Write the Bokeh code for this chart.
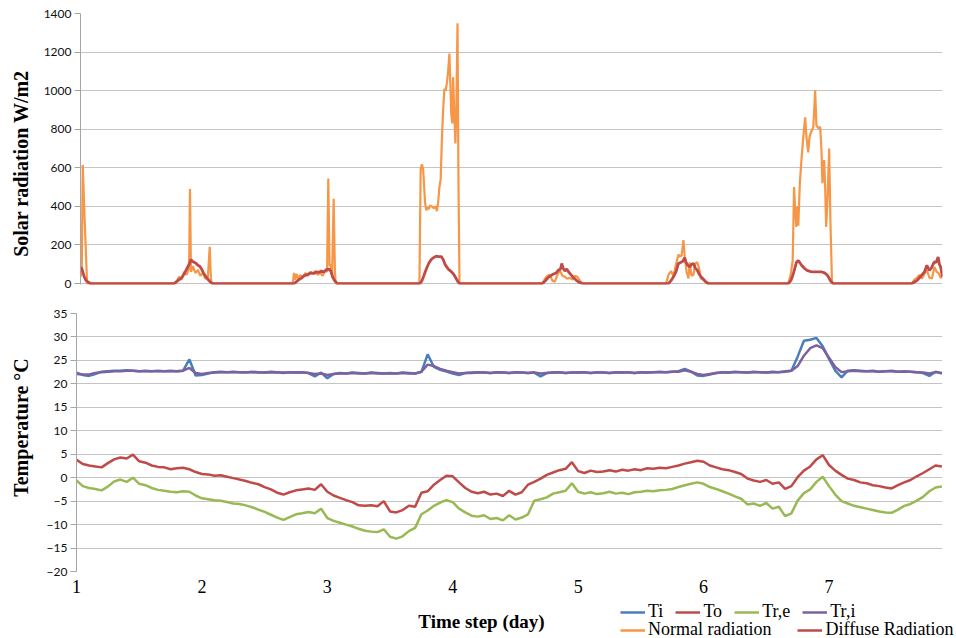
import numpy as np
from bokeh.plotting import figure
from bokeh.layouts import column, row
from bokeh.models import Range1d, FixedTicker, Legend, LegendItem, Label
from bokeh.embed import file_html
from bokeh.resources import INLINE

# ---------------- data ----------------
# Solar radiation (W/m2): time (day) / value pairs
NORMAL_DAY = [
    1.000, 1.010, 1.018, 1.035, 1.053,
    1.750, 1.770, 1.790, 1.810, 1.830, 1.850, 1.870, 1.877, 1.885, 1.900, 1.920, 1.940, 1.960, 1.980, 2.000, 2.020, 2.035, 2.045, 2.055,
    2.700, 2.710, 2.720, 2.730, 2.745, 2.760, 2.780, 2.800, 2.820, 2.840, 2.860, 2.880, 2.900, 2.920, 2.940, 2.960, 2.975, 2.985, 2.995, 3.005, 3.015, 3.028, 3.038, 3.045,
    3.715, 3.725, 3.735, 3.745, 3.760, 3.770, 3.780, 3.790, 3.800, 3.815, 3.830, 3.845, 3.855, 3.865, 3.875, 3.885, 3.895, 3.905, 3.915, 3.925, 3.935, 3.945, 3.955, 3.962, 3.970, 3.978, 3.985, 3.993, 4.003, 4.010, 4.020, 4.028, 4.036,
    4.700, 4.720, 4.740, 4.760, 4.780, 4.800, 4.820, 4.840, 4.860, 4.880, 4.900, 4.920, 4.940, 4.960, 4.980, 5.000, 5.020,
    5.690, 5.710, 5.730, 5.750, 5.770, 5.790, 5.800, 5.815, 5.830, 5.840, 5.855, 5.870, 5.880, 5.895, 5.910, 5.925, 5.940, 5.955, 5.970, 5.990, 6.020,
    6.670, 6.690, 6.705, 6.716, 6.725, 6.734, 6.742, 6.750, 6.762, 6.775, 6.790, 6.805, 6.815, 6.829, 6.840, 6.855, 6.870, 6.885, 6.895, 6.910, 6.925, 6.935, 6.943, 6.957, 6.965, 6.973, 6.985, 6.997, 7.008, 7.020,
    7.660, 7.680, 7.700, 7.720, 7.740, 7.760, 7.780, 7.800, 7.820, 7.840, 7.860, 7.875, 7.890, 7.905,
]
NORMAL_RAD = [
    35, 60, 615, 300, 0,
    0, 12, 35, 20, 60, 45, 80, 490, 60, 90, 55, 70, 40, 55, 25, 30, 190, 20, 0,
    0, 55, 20, 50, 25, 45, 30, 55, 40, 60, 50, 65, 45, 55, 40, 70, 60, 545, 90, 100, 30, 440, 60, 0,
    0, 595, 618, 590, 420, 380, 395, 385, 405, 400, 390, 400, 375, 420, 500, 540, 750, 900, 1010, 1000, 1040, 1100, 1192, 1050, 880, 830, 1070, 900, 726, 880, 1350, 500, 0,
    0, 25, 40, 45, 15, 10, 45, 70, 40, 35, 25, 30, 20, 40, 35, 15, 0,
    0, 45, 65, 40, 100, 150, 140, 145, 225, 140, 60, 26, 110, 40, 45, 105, 110, 80, 26, 20, 0,
    0, 50, 120, 500, 380, 294, 400, 300, 520, 640, 760, 862, 760, 680, 760, 790, 810, 1000, 820, 805, 812, 700, 520, 640, 500, 294, 450, 700, 300, 0,
    0, 20, 30, 45, 25, 50, 69, 30, 26, 86, 60, 52, 30, 35,
]
DIFFUSE_DAY = [
    1.000, 1.008, 1.016, 1.030, 1.045, 1.060, 1.080,
    1.750, 1.770, 1.790, 1.810, 1.830, 1.850, 1.870, 1.885, 1.895, 1.910, 1.925, 1.940, 1.955, 1.970, 1.985, 2.000, 2.020, 2.040, 2.055,
    2.710, 2.730, 2.750, 2.770, 2.790, 2.810, 2.830, 2.850, 2.870, 2.890, 2.910, 2.930, 2.950, 2.970, 2.990, 3.005, 3.020, 3.035, 3.050, 3.060,
    3.720, 3.735, 3.750, 3.770, 3.790, 3.810, 3.830, 3.850, 3.870, 3.890, 3.905, 3.920, 3.935, 3.950, 3.965, 3.980, 3.995, 4.010, 4.025, 4.035,
    4.700, 4.720, 4.745, 4.765, 4.785, 4.810, 4.830, 4.845, 4.855, 4.865, 4.880, 4.895, 4.910, 4.930, 4.950, 4.970, 4.995, 5.020,
    5.710, 5.730, 5.750, 5.770, 5.790, 5.810, 5.825, 5.840, 5.850, 5.865, 5.880, 5.895, 5.910, 5.925, 5.940, 5.955, 5.970, 5.990, 6.010, 6.030,
    6.670, 6.690, 6.705, 6.720, 6.735, 6.750, 6.765, 6.780, 6.800, 6.820, 6.850, 6.880, 6.910, 6.940, 6.960, 6.980, 6.995, 7.010, 7.030,
    7.660, 7.680, 7.700, 7.720, 7.740, 7.760, 7.780, 7.790, 7.800, 7.815, 7.830, 7.840, 7.855, 7.870, 7.880, 7.890, 7.905,
]
DIFFUSE_RAD = [
    80, 82, 65, 35, 15, 8, 0,
    0, 10, 20, 30, 50, 75, 100, 125, 115, 110, 105, 95, 90, 75, 55, 40, 22, 8, 0,
    0, 10, 20, 28, 40, 45, 50, 55, 52, 60, 58, 65, 60, 72, 75, 65, 35, 15, 5, 0,
    0, 15, 40, 75, 105, 125, 135, 142, 140, 140, 125, 100, 85, 72, 65, 55, 42, 25, 8, 0,
    0, 12, 30, 40, 48, 55, 70, 75, 104, 80, 65, 75, 60, 45, 30, 18, 6, 0,
    0, 15, 35, 60, 104, 110, 115, 135, 110, 95, 86, 100, 104, 80, 70, 50, 35, 22, 8, 0,
    0, 15, 40, 75, 110, 120, 105, 92, 78, 68, 62, 60, 60, 60, 55, 45, 30, 12, 0,
    0, 8, 15, 30, 45, 60, 95, 80, 69, 80, 100, 112, 110, 138, 100, 86, 35,
]

# Temperatures (deg C), one reading every 0.05 day from day 1.00 to 7.90
TI = [
    22.4, 21.9, 21.7, 22.1, 22.6, 22.7, 22.8, 22.8, 22.9, 22.8, 22.7, 22.8, 22.7, 22.8, 22.7, 22.8, 22.7, 22.8, 25.2, 21.8,
    21.9, 22.2, 22.5, 22.6, 22.5, 22.6, 22.5, 22.4, 22.6, 22.5, 22.4, 22.6, 22.5, 22.3, 22.5, 22.4, 22.5, 22.3, 21.6, 22.4,
    21.2, 22.1, 22.3, 22.2, 22.4, 22.3, 22.2, 22.4, 22.3, 22.2, 22.3, 22.2, 22.4, 22.3, 22.2, 22.5, 26.3, 23.6, 23.0, 22.6,
    22.2, 21.9, 22.3, 22.4, 22.5, 22.4, 22.3, 22.5, 22.4, 22.3, 22.5, 22.4, 22.3, 22.4, 21.6, 22.3, 22.4, 22.5, 22.3, 22.4,
    22.4, 22.5, 22.3, 22.5, 22.4, 22.3, 22.5, 22.4, 22.5, 22.3, 22.5, 22.4, 22.5, 22.6, 22.5, 22.6, 22.7, 23.2, 22.6, 21.8,
    21.7, 22.0, 22.3, 22.5, 22.4, 22.6, 22.5, 22.4, 22.6, 22.5, 22.4, 22.6, 22.5, 22.7, 22.8, 25.8, 29.2, 29.4, 29.8, 28.0,
    25.3, 22.8, 21.4, 22.8, 22.9, 22.8, 22.7, 22.8, 22.6, 22.7, 22.8, 22.6, 22.7, 22.6, 22.5, 22.3, 21.7, 22.6, 22.2,
]
TO = [
    3.8, 2.9, 2.6, 2.4, 2.2, 3.1, 3.9, 4.3, 4.1, 4.9, 3.5, 3.2, 2.6, 2.3, 2.2, 1.8, 2.0, 2.1, 1.8, 1.2,
    0.8, 0.7, 0.4, 0.5, 0.2, -0.1, -0.4, -0.7, -1.1, -1.4, -2.0, -2.5, -3.2, -3.6, -3.1, -2.7, -2.5, -2.3, -2.6, -1.4,
    -3.0, -3.8, -4.3, -4.8, -5.2, -5.9, -6.0, -5.9, -6.1, -5.0, -7.2, -7.4, -6.9, -6.0, -6.2, -3.2, -2.9, -1.5, -0.5, 0.4,
    0.3, -1.0, -2.2, -3.0, -3.3, -3.0, -3.6, -3.4, -3.9, -2.8, -3.6, -3.1, -1.5, -0.9, -0.2, 0.6, 1.1, 1.6, 1.9, 3.3,
    1.4, 1.0, 1.5, 1.2, 1.3, 1.6, 1.3, 1.7, 1.5, 1.8, 1.6, 2.0, 1.9, 2.1, 2.0, 2.3, 2.6, 3.0, 3.3, 3.6,
    3.4, 2.6, 2.2, 1.8, 1.6, 1.2, 0.8, -0.2, -0.6, -0.9, -0.5, -1.3, -1.0, -2.4, -1.8, 0.1, 1.5, 2.4, 3.9, 4.8,
    2.7, 1.5, 0.6, -0.2, -0.5, -1.0, -1.2, -1.6, -1.8, -2.1, -2.3, -1.6, -1.0, -0.5, 0.3, 1.0, 1.8, 2.6, 2.4,
]
TR_E = [
    -0.6, -1.8, -2.2, -2.4, -2.7, -1.9, -0.8, -0.4, -0.9, 0.0, -1.3, -1.6, -2.2, -2.6, -2.8, -3.0, -3.1, -2.9, -3.0, -3.8,
    -4.4, -4.6, -4.8, -4.9, -5.2, -5.5, -5.6, -5.9, -6.3, -6.8, -7.3, -7.9, -8.5, -9.0, -8.4, -7.8, -7.6, -7.3, -7.6, -6.6,
    -8.6, -9.2, -9.6, -10.0, -10.4, -10.9, -11.3, -11.5, -11.6, -11.0, -12.6, -13.0, -12.5, -11.4, -10.7, -7.8, -7.0, -6.0, -5.3, -4.8,
    -5.2, -6.6, -7.4, -8.1, -8.3, -8.0, -8.8, -8.6, -9.1, -8.0, -8.9, -8.5, -7.8, -4.9, -4.6, -4.2, -3.4, -3.1, -2.8, -1.2,
    -3.0, -3.4, -3.1, -3.5, -3.3, -3.0, -3.4, -3.2, -3.5, -3.1, -3.0, -2.8, -2.9, -2.7, -2.6, -2.4, -2.0, -1.6, -1.3, -1.0,
    -1.3, -2.0, -2.4, -2.9, -3.4, -4.0, -4.5, -5.7, -5.5, -6.0, -5.4, -6.6, -6.2, -8.2, -7.6, -4.9, -3.3, -2.5, -0.9, 0.2,
    -1.8, -3.6, -5.0, -5.5, -6.0, -6.3, -6.6, -6.9, -7.2, -7.4, -7.5, -6.8, -6.0, -5.6, -4.9, -4.1, -2.9, -2.1, -1.9,
]
TR_I = [
    22.1, 22.0, 22.0, 22.3, 22.5, 22.6, 22.7, 22.7, 22.8, 22.8, 22.7, 22.7, 22.7, 22.7, 22.7, 22.7, 22.7, 22.8, 23.4, 22.3,
    22.1, 22.3, 22.4, 22.5, 22.5, 22.5, 22.5, 22.5, 22.5, 22.4, 22.4, 22.5, 22.4, 22.4, 22.4, 22.4, 22.4, 22.3, 22.1, 22.2,
    21.9, 22.1, 22.2, 22.2, 22.3, 22.2, 22.2, 22.3, 22.2, 22.2, 22.2, 22.2, 22.3, 22.2, 22.2, 22.6, 24.1, 23.8, 23.2, 22.8,
    22.5, 22.2, 22.3, 22.3, 22.4, 22.4, 22.3, 22.4, 22.4, 22.3, 22.4, 22.4, 22.3, 22.4, 22.2, 22.3, 22.4, 22.4, 22.3, 22.4,
    22.4, 22.4, 22.3, 22.4, 22.4, 22.3, 22.4, 22.4, 22.4, 22.3, 22.4, 22.4, 22.5, 22.5, 22.5, 22.6, 22.6, 22.9, 22.6, 22.1,
    21.9, 22.1, 22.3, 22.4, 22.4, 22.5, 22.5, 22.4, 22.5, 22.5, 22.4, 22.5, 22.5, 22.6, 22.8, 23.8, 26.0, 27.6, 28.2, 27.6,
    25.6, 23.6, 22.5, 22.7, 22.8, 22.7, 22.7, 22.7, 22.6, 22.7, 22.7, 22.6, 22.6, 22.6, 22.5, 22.4, 22.2, 22.5, 22.3,
]
T_DAY = [round(1.0 + 0.05 * i, 2) for i in range(len(TI))]  # sampling times

RAD_TICKS = [0, 200, 400, 600, 800, 1000, 1200, 1400]
TEMP_TICKS = [-20, -15, -10, -5, 0, 5, 10, 15, 20, 25, 30, 35]
DAY_TICKS = [1, 2, 3, 4, 5, 6, 7]

# ---------------- style ----------------
C_TI, C_TO, C_TRE, C_TRI = "#4A7EBB", "#BE4B48", "#98B954", "#7D60A0"
C_NORMAL, C_DIFFUSE = "#F79646", "#BE4B48"
GRID = "#c4c4c4"
AXIS = "#a6a6a6"
SANS = "Lato"
SERIF = "Liberation Serif"
W, H1, H2, H3, LW = 956, 298, 302, 38, 40

xr = Range1d(1.0, 7.905)


def blank(width, height, y0=0):
    f = figure(width=width, height=height, x_range=Range1d(0, width), y_range=Range1d(y0, y0 + height),
               x_axis_location=None, y_axis_location=None, output_backend="svg",
               toolbar_location=None, min_border=0)
    for g in f.grid:
        g.visible = False
    f.outline_line_color = None
    return f


def style(p, ticks):
    ax = p.yaxis[0]
    ax.ticker = FixedTicker(ticks=ticks)
    ax.axis_line_color = AXIS
    ax.major_tick_line_color = AXIS
    ax.minor_tick_line_color = None
    ax.major_tick_out = 6
    ax.major_tick_in = 0
    ax.major_label_standoff = 3
    ax.major_label_text_font = SANS
    ax.major_label_text_font_size = "12px"
    ax.major_label_text_color = "#111111"
    p.ygrid.grid_line_color = GRID
    p.ygrid.grid_line_width = 1
    for g in p.xgrid:
        g.visible = False
    p.outline_line_color = None


def ylabel(text, height, y):
    f = blank(LW, height)
    f.add_layout(Label(x=20, y=y, x_units="screen", y_units="screen", angle=np.pi / 2,
                       text=text, text_font=SERIF, text_font_style="bold",
                       text_font_size="20px", text_align="center", text_baseline="middle",
                       text_color="#000000"))
    return f


# top: solar radiation
p1 = figure(width=W - LW, height=H1, x_range=xr, y_range=Range1d(-5, 1400),
            x_axis_location=None, output_backend="svg", toolbar_location=None,
            min_border_left=76 - LW, min_border_right=14, min_border_top=13, min_border_bottom=14)
style(p1, RAD_TICKS)
p1.line(NORMAL_DAY, NORMAL_RAD, line_color=C_NORMAL, line_width=2.2)
p1.line(DIFFUSE_DAY, DIFFUSE_RAD, line_color=C_DIFFUSE, line_width=2.8)
lab1 = ylabel("Solar radiation W/m2", H1, 121)

# bottom: temperatures
p2 = figure(width=W - LW, height=H2, x_range=xr, y_range=Range1d(-20, 35),
            output_backend="svg", toolbar_location=None,
            min_border_left=76 - LW, min_border_right=14, min_border_top=15, min_border_bottom=29)
style(p2, TEMP_TICKS)
xa = p2.xaxis[0]
xa.ticker = FixedTicker(ticks=DAY_TICKS)
xa.axis_line_color = None
xa.major_tick_line_color = None
xa.minor_tick_line_color = None
xa.major_tick_out = 0
xa.major_tick_in = 0
xa.major_label_standoff = 8
xa.major_label_text_font = SERIF
xa.major_label_text_font_size = "18px"
xa.major_label_text_color = "#000000"

p2.line(T_DAY, TI, line_color=C_TI, line_width=2.5)
p2.line(T_DAY, TO, line_color=C_TO, line_width=2.5)
p2.line(T_DAY, TR_E, line_color=C_TRE, line_width=2.5)
p2.line(T_DAY, TR_I, line_color=C_TRI, line_width=2.5)
lab2 = ylabel("Temperature °C", H2, 144)

# footer: x-axis title and legend (legend keys reuse the series, far outside this panel's view)
p3 = blank(W, H3, y0=5000)
p3.add_layout(Label(x=481, y=17, x_units="screen", y_units="screen", text="Time step (day)",
                    text_font=SERIF, text_font_style="bold",
                    text_font_size="19px", text_align="center", text_baseline="middle",
                    text_color="#000000"))
k = {
    "Ti": p3.line(T_DAY, TI, line_color=C_TI, line_width=2.5),
    "To": p3.line(T_DAY, TO, line_color=C_TO, line_width=2.5),
    "Tr,e": p3.line(T_DAY, TR_E, line_color=C_TRE, line_width=2.5),
    "Tr,i": p3.line(T_DAY, TR_I, line_color=C_TRI, line_width=2.5),
    "Normal radiation": p3.line(NORMAL_DAY, NORMAL_RAD, line_color=C_NORMAL, line_width=2.5),
    "Diffuse Radiation": p3.line(DIFFUSE_DAY, DIFFUSE_RAD, line_color=C_DIFFUSE, line_width=2.5),
}


def make_legend(names, loc, spacing):
    return Legend(items=[LegendItem(label=n, renderers=[k[n]]) for n in names],
                  location=loc, orientation="horizontal",
                  label_text_font=SERIF, label_text_font_size="18px", label_text_color="#000000",
                  glyph_width=25, glyph_height=18, label_height=18, label_width=0, label_standoff=3,
                  padding=0, margin=0, spacing=spacing,
                  border_line_color=None, background_fill_alpha=0)


p3.add_layout(make_legend(["Ti", "To", "Tr,e", "Tr,i"], (620, 16), 12))
p3.add_layout(make_legend(["Normal radiation", "Diffuse Radiation"], (620, -2), 26))

layout = column(row(lab1, p1, spacing=0), row(lab2, p2, spacing=0), p3, spacing=0)
open("out.html", "w").write(file_html(layout, INLINE))
